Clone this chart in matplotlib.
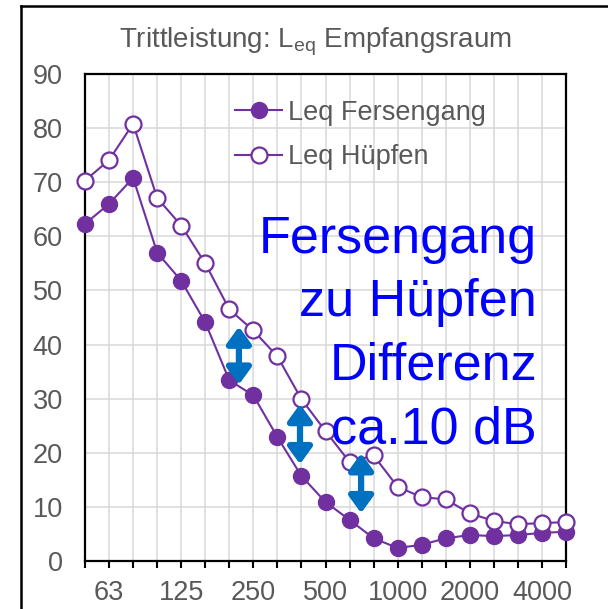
import matplotlib
matplotlib.use("Agg")
import matplotlib.pyplot as plt
from matplotlib.lines import Line2D

plt.rcParams['font.family'] = ['Liberation Sans', 'DejaVu Sans']
plt.rcParams['mathtext.fontset'] = 'custom'
plt.rcParams['mathtext.rm'] = 'Liberation Sans'

# third-octave bands 50 Hz .. 5000 Hz
freqs = ['50', '63', '80', '100', '125', '160', '200', '250', '315', '400', '500',
         '630', '800', '1000', '1250', '1600', '2000', '2500', '3150', '4000', '5000']
shown_labels = ['63', '125', '250', '500', '1000', '2000', '4000']

leq_fersengang = [62.3, 66.0, 70.8, 57.0, 51.8, 44.1, 33.4, 30.6, 22.9, 15.7, 10.9,
                  7.6, 4.2, 2.4, 3.0, 4.2, 4.8, 4.6, 4.8, 5.2, 5.4]
leq_huepfen = [70.3, 74.1, 80.8, 67.1, 62.0, 55.0, 46.5, 42.6, 37.8, 29.9, 24.0,
               18.3, 19.5, 13.7, 11.8, 11.4, 8.8, 7.4, 6.8, 7.0, 7.2]

# difference arrows: (x position in band index, lower value, upper value)
arrow_x = [6.4, 8.94, 11.48]
arrow_low = [32.6, 17.9, 8.85]
arrow_high = [43.3, 29.0, 19.9]

note_lines = ['Fersengang', 'zu Hüpfen', 'Differenz', 'ca.10 dB']

purple = '#7030A0'
gray = '#595959'

fig = plt.figure(figsize=(6.08, 6.09), dpi=100)
ax = fig.add_axes([85 / 608, 1 - 561 / 609, 481 / 608, 487 / 609])

x = list(range(len(freqs)))
ax.plot(x, leq_fersengang, color=purple, lw=1.5, marker='o', ms=11.5,
        mfc=purple, mec=purple, label='Leq Fersengang', zorder=4, clip_on=False)
ax.plot(x, leq_huepfen, color=purple, lw=1.5, marker='o', ms=11.5,
        mfc='white', mec=purple, mew=1.6, label='Leq Hüpfen', zorder=4, clip_on=False)

ax.set_xlim(0, len(freqs) - 1)
ax.set_ylim(0, 90)
ax.set_yticks(range(0, 91, 10))
ax.set_xticks(x)
ax.set_xticklabels([f if f in shown_labels else '' for f in freqs])

ax.grid(True, color='#d9d9d9', lw=1.1, zorder=0)
ax.set_axisbelow(True)
for s in ax.spines.values():
    s.set_color('black')
    s.set_linewidth(1.6)
ax.tick_params(axis='y', length=0, pad=16, labelsize=19.5, labelcolor=gray)
ax.tick_params(axis='x', length=5, width=1.5, direction='out', pad=9,
               labelsize=19.5, labelcolor=gray)

ax.legend(loc='upper left', bbox_to_anchor=(0.312, 0.947), frameon=False,
          fontsize=19.5, labelcolor=gray, handlelength=1.75, handletextpad=0.22,
          labelspacing=0.68, borderpad=0, borderaxespad=0)

for xa, lo, hi in zip(arrow_x, arrow_low, arrow_high):
    ax.annotate('', xy=(xa, hi), xytext=(xa, lo),
                arrowprops=dict(arrowstyle='<|-|>,head_length=0.55,head_width=0.4',
                                mutation_scale=18, lw=4.5, color='#0070C0',
                                shrinkA=0, shrinkB=0), zorder=5)

for i, line in enumerate(note_lines):
    ax.text(0.94, (57.0 - i * 11.75) / 90, line, transform=ax.transAxes,
            ha='right', va='baseline', fontsize=37.5, color='#0000FF', zorder=6)

fig.text(315 / 608, 1 - 42 / 609, r'Trittleistung: L$_{\mathrm{eq}}$ Empfangsraum',
         ha='center', va='center', fontsize=20, color=gray)

# outer frame of the chart area
fig.add_artist(Line2D([21 / 608, 21 / 608], [0, 1 - 6 / 609], color='black', lw=1.8))
fig.add_artist(Line2D([21 / 608, 1], [1 - 6 / 609, 1 - 6 / 609], color='black', lw=1.8))

plt.savefig("out.png", dpi=100)
